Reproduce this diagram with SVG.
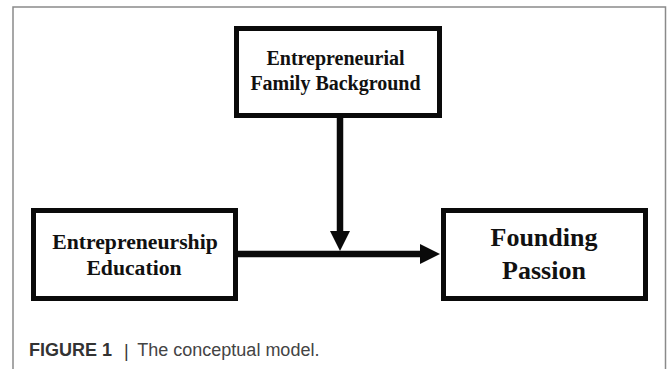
<svg xmlns="http://www.w3.org/2000/svg" width="667" height="369" viewBox="0 0 667 369">
  <style>
    .box { fill: #ffffff; stroke: #0a0a0a; stroke-width: 5; }
    .lbl { font-family: "Liberation Serif", "Times New Roman", serif; font-weight: bold; fill: #111111; text-anchor: middle; }
    .conn { stroke: #0a0a0a; stroke-width: 6.5; fill: none; }
    .cap { font-family: "Liberation Sans", Arial, sans-serif; font-size: 18px; }
  </style>
  <defs>
    <marker id="arrow" markerUnits="userSpaceOnUse" markerWidth="20" markerHeight="20" refX="0" refY="10" orient="auto">
      <path d="M0,0 L20,10 L0,20 Z" fill="#0a0a0a"/>
    </marker>
  </defs>
  <rect x="0" y="0" width="667" height="369" fill="#ffffff"/>
  <path d="M13,369 V7 H665.5 V369" fill="none" stroke="#8a8a8a" stroke-width="1.5"/>

  <g id="connectors">
    <path class="conn" d="M340,118 V231" marker-end="url(#arrow)"/>
    <path class="conn" d="M238,254 H420" marker-end="url(#arrow)"/>
  </g>

  <g id="node-family">
    <rect class="box" x="236.5" y="28.5" width="203" height="87"/>
    <text class="lbl" font-size="20" x="335.5" y="65">Entrepreneurial</text>
    <text class="lbl" font-size="20" x="335.5" y="90">Family Background</text>
  </g>

  <g id="node-education">
    <rect class="box" x="33.5" y="210.5" width="202" height="88"/>
    <text class="lbl" font-size="21.7" x="135" y="249">Entrepreneurship</text>
    <text class="lbl" font-size="21.7" x="134" y="275">Education</text>
  </g>

  <g id="node-passion">
    <rect class="box" x="443.5" y="210.5" width="202" height="88"/>
    <text class="lbl" font-size="26" x="544" y="246">Founding</text>
    <text class="lbl" font-size="26" x="544" y="279">Passion</text>
  </g>

  <g id="caption">
    <text class="cap" x="29" y="356" font-weight="bold" fill="#333333">FIGURE 1</text>
    <text class="cap" x="124" y="357" fill="#333333">|</text>
    <text class="cap" x="137.3" y="356" fill="#444444">The conceptual model.</text>
  </g>
</svg>
